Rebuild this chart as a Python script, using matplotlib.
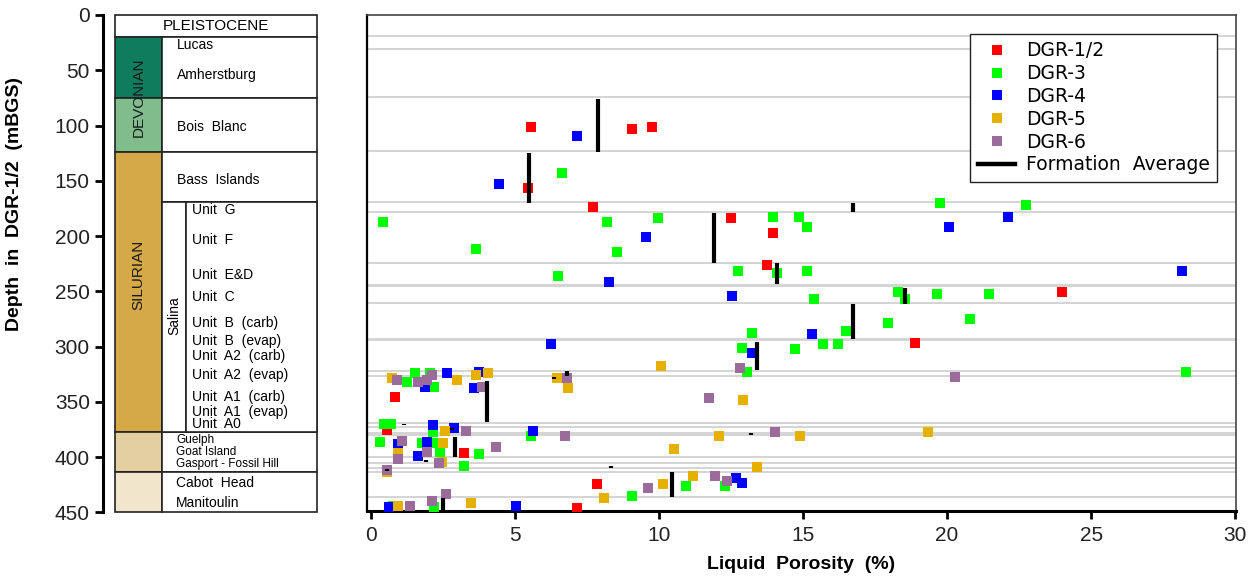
import matplotlib
matplotlib.use("Agg")
import matplotlib.pyplot as plt
from matplotlib.patches import Rectangle
from matplotlib.lines import Line2D

plt.rcParams["font.family"] = ["Liberation Sans", "DejaVu Sans"]

# ---- stratigraphic column (depth in mBGS) ----
column_blocks = [  # top, bottom, colour of system cell
    (20.2, 75.4, "#0e7d5e"),
    (75.4, 123.7, "#80bc8c"),
    (123.7, 377.0, "#d5a948"),
    (377.0, 413.8, "#e3cfa1"),
    (413.8, 450.0, "#f1e6cc"),
]
name_boxes = [(20.2, 75.4), (75.4, 123.7), (123.7, 169.5), (169.5, 377.0),
              (377.0, 413.8), (413.8, 450.0)]
upper_names = ["Lucas", "Amherstburg", "Bois  Blanc", "Bass  Islands"]
upper_depths = [27, 54, 101.4, 149]
salina_names = ["Unit  G", "Unit  F", "Unit  E&D", "Unit  C", "Unit  B  (carb)",
                "Unit  B  (evap)", "Unit  A2  (carb)", "Unit  A2  (evap)",
                "Unit  A1  (carb)", "Unit  A1  (evap)", "Unit  A0"]
salina_depths = [176.5, 203.6, 235, 255, 278.5, 295, 309, 325.8, 345.5, 359.6, 370]
lower_names = ["Guelph", "Goat Island", "Gasport - Fossil Hill", "Cabot  Head", "Manitoulin"]
lower_depths = [385.0, 395.8, 406.2, 423.5, 441.8]

# ---- formation boundaries drawn across the porosity panel ----
boundaries = [19.3, 30.5, 74.5, 123.3, 169.5, 178.6, 224.4, 244.4, 245.4, 261.0,
              293.0, 294.0, 321.9, 326.7, 369.5, 372.6, 378.0, 380.0, 399.7,
              405.7, 410.2, 413.3, 436.5]

# ---- liquid porosity data (%), depth (mBGS) ----
dgr12_por = [5.56, 9.07, 9.77, 5.46, 7.72, 12.51, 13.97, 13.74, 24.0, 18.88,
             0.83, 0.55, 3.24, 7.84, 7.14]
dgr12_dep = [101.6, 103.2, 101.6, 156.3, 173.5, 183.4, 197.6, 226.5, 251, 296.5,
             345.4, 375.6, 396.7, 424.7, 445.9]

dgr3_por = [6.62, 0.43, 8.19, 9.95, 13.95, 14.85, 15.13, 3.63, 8.54, 19.76, 22.73,
            12.74, 14.09, 15.13, 6.5, 18.31, 18.54, 19.64, 21.45, 15.37, 17.94,
            20.81, 16.49, 15.7, 16.2, 14.73, 13.22, 12.87, 13.04, 28.28, 1.53,
            2.05, 1.24, 2.19, 0.45, 0.68, 2.14, 0.31, 1.76, 2.22, 2.4, 3.76,
            3.24, 5.55, 12.29, 10.94, 9.07, 2.17, 0.75]
dgr3_dep = [142.7, 187, 187, 183.4, 182.5, 182.5, 191.6, 211.5, 214.5, 170.4, 172,
            231.4, 233.8, 231.4, 235.9, 251, 257, 252.5, 252.5, 257, 278.4,
            275.4, 286, 297.7, 297.7, 302.6, 287.5, 301, 322.8, 322.8, 323.7,
            323.7, 331.8, 336.4, 370, 370, 377.1, 386.7, 387.6, 387.6, 395.8, 397.3,
            407.9, 381, 426.2, 426.2, 435.3, 445.5, 444.5]

dgr4_por = [7.14, 4.46, 9.54, 20.05, 22.1, 8.25, 28.17, 12.52, 15.31, 6.26, 13.24,
            2.65, 3.75, 1.88, 3.58, 2.14, 2.89, 5.61, 0.95, 1.93, 1.64, 12.67,
            12.87, 5.03, 0.64]
dgr4_dep = [109.2, 153.2, 200.6, 191.6, 182.5, 241.9, 231.4, 254, 288.7, 298, 305.6,
            324.3, 322.8, 336.4, 337.8, 371, 374.1, 376.2, 388.2, 386.1, 398.8, 419.3,
            423.2, 444, 445]

dgr5_por = [0.72, 3.0, 3.63, 4.05, 6.47, 6.85, 10.06, 12.93, 2.57, 2.51, 0.95, 2.45,
            0.55, 12.09, 14.9, 19.35, 10.52, 13.39, 11.17, 10.12, 8.09, 3.46, 0.95]
dgr5_dep = [328.8, 330.3, 325.8, 324.3, 328.8, 337.8, 317.6, 348.4, 376.2, 387.6,
            396.7, 404.2, 413.3, 380.7, 380.7, 377.4, 392.8, 409.3, 417.2, 424.7,
            436.8, 441.3, 444.4]

dgr6_por = [0.89, 1.64, 1.93, 2.11, 3.84, 6.79, 12.81, 20.28, 11.75, 3.3, 1.07, 1.93,
            0.95, 2.36, 4.34, 0.55, 6.74, 14.03, 11.93, 12.35, 9.6, 2.59, 2.13, 1.35]
dgr6_dep = [330.3, 331.8, 330.3, 325.8, 336.4, 328.8, 319.8, 327.3, 346.9, 376.2,
            385.2, 395.8, 401.8, 405.7, 391.2, 411.8, 380.7, 377.1, 417.2, 421.4,
            427.8, 433.8, 439.8, 444.4]

avg_por = [7.87, 5.49, 16.75, 11.91, 14.11, 18.54, 16.75, 13.41, 6.82, 6.35, 4.02,
           1.16, 2.8, 13.18, 2.92, 1.91, 8.33, 0.55, 10.44, 2.51]
avg_top = [76, 124.6, 170.4, 179.5, 224, 246.8, 262, 295.6, 321.9, 328.0, 331,
           369.8, 374.2, 378.2, 381.6, 402.8, 408.0, 411.2, 413.3, 436.8]
avg_bot = [124, 170, 178.6, 224, 243.4, 261.5, 293.2, 321.3, 326.7, 329.6, 368,
           371.2, 375.8, 379.8, 399.7, 404.4, 409.6, 412.4, 436.5, 448.5]

series = [
    ("DGR-1/2", dgr12_por, dgr12_dep, "#ff0000"),
    ("DGR-3", dgr3_por, dgr3_dep, "#00ff00"),
    ("DGR-4", dgr4_por, dgr4_dep, "#0000ff"),
    ("DGR-5", dgr5_por, dgr5_dep, "#e6b000"),
    ("DGR-6", dgr6_por, dgr6_dep, "#9b6b9b"),
]

W, H = 1258, 583
EDGE = "#222222"


def frac(x0, y0, x1, y1):
    return [x0 / W, 1 - y1 / H, (x1 - x0) / W, (y1 - y0) / H]


fig = plt.figure(figsize=(W / 100, H / 100), dpi=100)

# ---------------- column ----------------
ax_col = fig.add_axes(frac(103, 15, 318, 512.3))
ax_col.set_xlim(0, 215)
ax_col.set_ylim(450, 0)
for s in ["top", "right", "bottom"]:
    ax_col.spines[s].set_visible(False)
ax_col.spines["left"].set_linewidth(2.2)
ax_col.set_xticks([])
ax_col.set_yticks(range(0, 451, 50))
ax_col.tick_params(axis="y", direction="out", length=5.5, width=2, pad=4,
                   labelsize=15, labelcolor="#222222")
ax_col.set_ylabel("Depth  in  DGR-1/2  (mBGS)", fontsize=14, fontweight="bold")
ax_col.yaxis.set_label_coords(-80 / 215, 0.62)

XL, XS, XN, XR = 12, 59, 82.7, 214


def box(x0, x1, d0, d1, fc="white"):
    ax_col.add_patch(Rectangle((x0, d0), x1 - x0, d1 - d0, facecolor=fc,
                               edgecolor=EDGE, linewidth=1.2, clip_on=False))


box(XL, XR, 0, 20.2)
ax_col.text((XL + XR) / 2, 10, "PLEISTOCENE", ha="center", va="center", fontsize=11)
for top, bot, fc in column_blocks:
    box(XL, XS, top, bot, fc)
for top, bot in name_boxes:
    box(XS, XR, top, bot)
box(XS, XN, 169.5, 377.0)
box(XN, XR, 169.5, 377.0)

ax_col.text((XL + XS) / 2, 74.2, "DEVONIAN", rotation=90, ha="center", va="center",
            fontsize=11, color="#1a1a1a")
ax_col.text((XL + XS) / 2, 235, "SILURIAN", rotation=90, ha="center", va="center",
            fontsize=11, color="#1a1a1a")
ax_col.text((XS + XN) / 2, 272, "Salina", rotation=90, ha="center", va="center",
            fontsize=10)
for name, d in zip(upper_names, upper_depths):
    ax_col.text(XS + 15, d, name, ha="left", va="center", fontsize=10)
for name, d in zip(salina_names, salina_depths):
    ax_col.text(XN + 6, d, name, ha="left", va="center", fontsize=10)
for i, (name, d) in enumerate(zip(lower_names, lower_depths)):
    ax_col.text(XS + 14, d, name, ha="left", va="center",
                fontsize=8.5 if i < 3 else 10)

# ---------------- porosity panel ----------------
ax = fig.add_axes(frac(367, 15, 1236, 511))
ax.set_xlim(-0.14, 30.03)
ax.set_ylim(448.9, 0)
ax.hlines(boundaries, -0.14, 30.03, colors="#d4d4d4", linewidth=1.4, zorder=1)

for label, por, dep, color in series:
    ax.plot(por, dep, ls="none", marker="s", ms=7.2, mew=0, color=color, zorder=3)
ax.vlines(avg_por, avg_top, avg_bot, colors="black", linewidth=3, zorder=4)

ax.set_xticks(range(0, 31, 5))
ax.set_yticks([])
ax.tick_params(axis="x", direction="out", length=6, width=2, pad=5,
               labelsize=15, labelcolor="#222222")
ax.spines["bottom"].set_linewidth(2.2)
ax.spines["left"].set_linewidth(1.6)
for s in ["top", "right"]:
    ax.spines[s].set_linewidth(1.2)
    ax.spines[s].set_color("#444444")
ax.set_xlabel("Liquid  Porosity  (%)", fontsize=14, fontweight="bold", labelpad=8)

handles = [Line2D([], [], ls="none", marker="s", ms=7, mew=0, color=c)
           for _, _, _, c in series]
handles.append(Line2D([], [], color="black", linewidth=3.2))
labels = [s[0] for s in series] + ["Formation  Average"]
leg = ax.legend(handles, labels, loc="upper right", bbox_to_anchor=(1217 / W, 1 - 34 / H),
                bbox_transform=fig.transFigure, borderaxespad=0, fancybox=False,
                framealpha=1, edgecolor="#222222",
                prop={"family": "DejaVu Sans", "size": 13.5},
                labelspacing=0.2, handlelength=2.0, handletextpad=0.55, borderpad=0.4)
leg.get_frame().set_linewidth(1.0)

fig.savefig("out.png", dpi=100, facecolor="white")
